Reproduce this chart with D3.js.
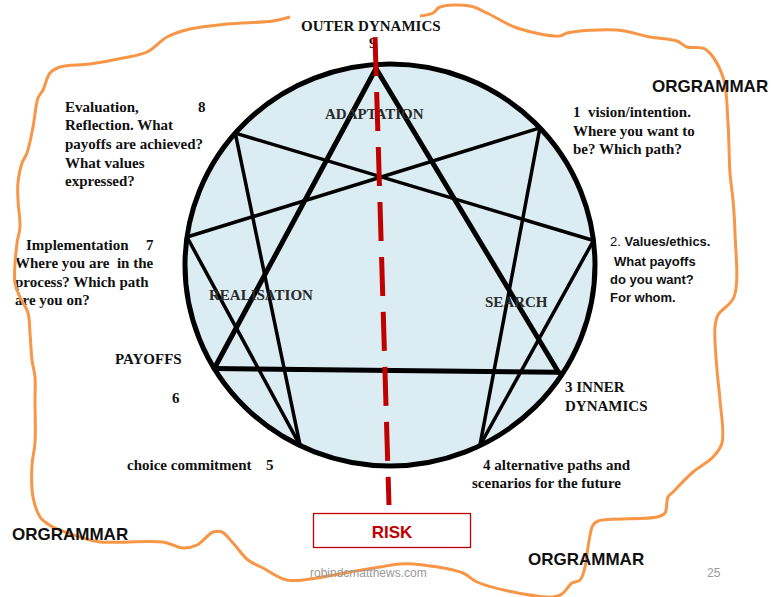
<!DOCTYPE html>
<html>
<head>
<meta charset="utf-8">
<script src="https://cdn.jsdelivr.net/npm/d3@7"></script>
<style>
  body { margin: 0; background: #fff; }
  svg { display: block; }
  text { white-space: pre; }
  .serif { font-family: "Liberation Serif", "Times New Roman", serif; font-weight: bold; font-size: 15px; fill: #111; }
  .sans { font-family: "Liberation Sans", Arial, sans-serif; font-weight: bold; fill: #111; }
</style>
</head>
<body>
<svg id="chart"></svg>
<script>
// enneagram points, angle in degrees clockwise from the top
const pointNames = ['9', '1', '2', '3', '4', '5', '6', '7', '8'];
const pointAngles = [-4, 47, 83, 123, 154, 206, 239, 278, 311];
const pointReach = [0.98, 1, 1, 0.98, 1, 1, 1, 1, 1];

// inner figures
const triangle = [['9', '3'], ['3', '6'], ['6', '9']];
const hexad = [['1', '4'], ['4', '2'], ['2', '8'], ['8', '5'], ['5', '7'], ['7', '1']];

// the red "risk" axis, in circle units
const riskAxis = [[-0.073, 1.134], [-0.005, -1.194]];

// hand drawn orange boundary, open at the title
const scribble = [[290,17],[273,21],[227,24],[190,29],[167,37],[147,52],[123,58],[90,64],[60,67],[50,73],[43,90],[38,98],[33,127],[27,153],[22,163],[18,182],[18,200],[20,227],[17,243],[15,283],[20,297],[28,313],[30,333],[32,360],[35,377],[35,400],[35,443],[32,465],[33,497],[40,517],[45,522],[53,527],[83,538],[100,542],[163,542],[183,548],[197,545],[213,532],[222,532],[233,543],[248,560],[263,568],[287,580],[317,578],[350,572],[380,567],[400,564],[423,565],[463,573],[477,582],[513,592],[553,597],[562,594],[572,583],[580,580],[585,567],[588,547],[593,525],[598,521],[657,517],[665,513],[668,497],[673,492],[693,472],[713,457],[722,443],[720,400],[717,370],[715,327],[718,315],[734,297],[735,233],[733,200],[730,173],[728,123],[723,77],[705,49],[687,47],[677,41],[650,37],[617,30],[567,33],[560,36],[517,28],[487,13],[470,6],[440,7],[433,13],[420,16]];

const width = 771, height = 597;
const svg = d3.select('#chart').attr('width', width).attr('height', height);

const x = d3.scaleLinear().domain([-1, 1]).range([185, 595]);
const y = d3.scaleLinear().domain([-1, 1]).range([466, 64]);

const pts = {};
pointNames.forEach((n, i) => {
  const a = pointAngles[i] * Math.PI / 180;
  pts[n] = [x(pointReach[i] * Math.sin(a)), y(pointReach[i] * Math.cos(a))];
});

// circle
svg.append('ellipse')
  .attr('cx', x(0)).attr('cy', y(0))
  .attr('rx', x(1) - x(0)).attr('ry', y(-1) - y(0))
  .attr('fill', '#dbecf3')
  .attr('stroke', '#000')
  .attr('stroke-width', 5);

svg.selectAll('line.hex')
  .data(hexad)
  .enter().append('line')
  .attr('class', 'hex')
  .attr('x1', d => pts[d[0]][0]).attr('y1', d => pts[d[0]][1])
  .attr('x2', d => pts[d[1]][0]).attr('y2', d => pts[d[1]][1])
  .attr('stroke', '#000').attr('stroke-width', 3.5);

svg.selectAll('line.tri')
  .data(triangle)
  .enter().append('line')
  .attr('class', 'tri')
  .attr('x1', d => pts[d[0]][0]).attr('y1', d => pts[d[0]][1])
  .attr('x2', d => pts[d[1]][0]).attr('y2', d => pts[d[1]][1])
  .attr('stroke', '#000').attr('stroke-width', 5)
  .attr('stroke-linecap', 'round');

// serif labels
const serifLabels = [
  { t: 'OUTER DYNAMICS', x: 301, y: 31 },
  { t: '9', x: 369, y: 48 },
  { t: 'ADAPTATION', x: 325, y: 119, c: '#2a2a2a' },
  { t: 'REALISATION', x: 209, y: 300, c: '#2a2a2a' },
  { t: 'SEARCH', x: 485, y: 307, c: '#2a2a2a' },
  { t: 'Evaluation,', x: 65, y: 112 },
  { t: '8', x: 198, y: 112 },
  { t: 'Reflection. What', x: 65, y: 130 },
  { t: 'payoffs are achieved?', x: 65, y: 149 },
  { t: 'What values', x: 65, y: 168 },
  { t: 'expressed?', x: 65, y: 186 },
  { t: '1  vision/intention.', x: 573, y: 117 },
  { t: 'Where you want to', x: 573, y: 136 },
  { t: 'be? Which path?', x: 573, y: 154 },
  { t: 'Implementation', x: 26, y: 250 },
  { t: '7', x: 146, y: 250 },
  { t: 'Where you are  in the', x: 15, y: 268 },
  { t: 'process? Which path', x: 15, y: 287 },
  { t: 'are you on?', x: 15, y: 305 },
  { t: 'PAYOFFS', x: 115, y: 364 },
  { t: '6', x: 172, y: 403 },
  { t: '3 INNER', x: 565, y: 392 },
  { t: 'DYNAMICS', x: 565, y: 411 },
  { t: 'choice commitment', x: 127, y: 470 },
  { t: '5', x: 266, y: 470 },
  { t: '4 alternative paths and', x: 483, y: 470 },
  { t: 'scenarios for the future', x: 472, y: 488 }
];

svg.selectAll('text.serif')
  .data(serifLabels)
  .enter().append('text')
  .attr('class', 'serif')
  .attr('x', d => d.x).attr('y', d => d.y)
  .style('fill', d => d.c || '#111')
  .text(d => d.t);

// value / ethics block (sans)
const ethicsLines = [
  { n: '2. ', t: 'Values/ethics.', x: 610, y: 246 },
  { n: '', t: 'What payoffs', x: 614, y: 266 },
  { n: '', t: 'do you want?', x: 610, y: 284 },
  { n: '', t: 'For whom.', x: 610, y: 302 }
];
const eth = svg.selectAll('text.eth')
  .data(ethicsLines)
  .enter().append('text')
  .attr('class', 'sans eth')
  .attr('x', d => d.x).attr('y', d => d.y)
  .style('font-size', '13px');
eth.append('tspan').style('font-weight', 'normal').text(d => d.n);
eth.append('tspan').text(d => d.t);

// risk axis
svg.append('line')
  .attr('x1', x(riskAxis[0][0])).attr('y1', y(riskAxis[0][1]))
  .attr('x2', x(riskAxis[1][0])).attr('y2', y(riskAxis[1][1]))
  .attr('stroke', '#c00000')
  .attr('stroke-width', 5)
  .attr('stroke-dasharray', '39,16');

// orange boundary
svg.append('path')
  .datum(scribble)
  .attr('d', d3.line().curve(d3.curveCatmullRom))
  .attr('fill', 'none')
  .attr('stroke', '#f79646')
  .attr('stroke-width', 3)
  .attr('stroke-linejoin', 'round');

// ORGRAMMAR labels
const orgLabels = [
  { x: 652, y: 92 },
  { x: 12, y: 540 },
  { x: 528, y: 565 }
];
svg.selectAll('text.org')
  .data(orgLabels)
  .enter().append('text')
  .attr('class', 'sans org')
  .attr('x', d => d.x).attr('y', d => d.y)
  .style('font-size', '17px')
  .text('ORGRAMMAR');

// RISK box
svg.append('rect')
  .attr('x', 313.5).attr('y', 513.5)
  .attr('width', 157).attr('height', 34)
  .attr('fill', '#fff')
  .attr('stroke', '#c00000')
  .attr('stroke-width', 1.3);
svg.append('text')
  .attr('class', 'sans')
  .attr('x', 392).attr('y', 538)
  .attr('text-anchor', 'middle')
  .style('font-size', '17px')
  .style('fill', '#c00000')
  .text('RISK');

// footer
svg.append('text')
  .attr('x', 310).attr('y', 577)
  .style('font-family', '"Liberation Sans", Arial, sans-serif')
  .style('font-size', '12px')
  .style('fill', '#999')
  .text('robindcmatthews.com');
svg.append('text')
  .attr('x', 707).attr('y', 577)
  .style('font-family', '"Liberation Sans", Arial, sans-serif')
  .style('font-size', '12px')
  .style('fill', '#999')
  .text('25');
</script>
</body>
</html>
